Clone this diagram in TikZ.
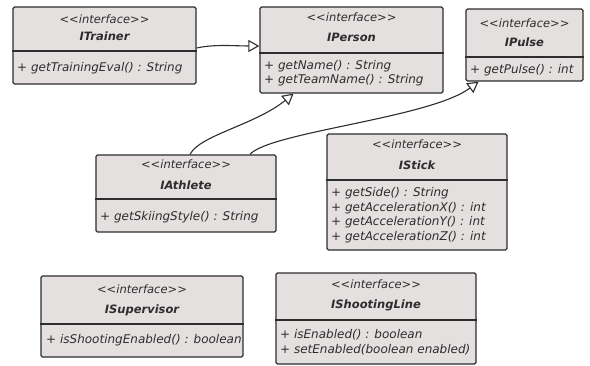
\documentclass[tikz,border=0pt]{standalone}
\usepackage{fontspec}
\setmainfont{DejaVu Sans}
\usetikzlibrary{arrows.meta}
\definecolor{boxfill}{RGB}{229,224,224}
\definecolor{ink}{RGB}{45,45,45}
\tikzset{
  box/.style={draw=ink, line width=1.3pt, fill=boxfill, rounded corners=1.5pt, inner sep=0pt},
  divider/.style={draw=ink, line width=1.2pt},
  stereo/.style={text=ink, font=\fontsize{11.5}{13}\selectfont\itshape},
  title/.style={text=ink, font=\fontsize{11.5}{13}\selectfont\bfseries\itshape},
  ops/.style={text=ink, font=\fontsize{12}{14.5}\selectfont\itshape, anchor=west, align=left, inner sep=0pt},
  realizes/.style={draw=ink, line width=1.1pt, -{Triangle[open, length=11pt, width=12pt, fill=white]}}
}
\begin{document}
\begin{tikzpicture}[x=1pt, y=-1pt]
  \useasboundingbox (0,0) rectangle (590,366);
  % ITrainer
  \node[box, minimum width=183pt, minimum height=77pt] (trainer) at (104.5,45.5) {};
  \draw[divider] (trainer.west |- 0,51) -- (trainer.east |- 0,51);
  \node[stereo] (trainerTag) at (104.5,19) {<{}<interface>{}>};
  \node[title] (trainerName) at (104.5,36) {ITrainer};
  \node[ops] (trainerOps) at (17,68) {+ getTrainingEval() : String};
  % IPerson
  \node[box, minimum width=183pt, minimum height=86pt] (person) at (351.5,50) {};
  \draw[divider] (person.west |- 0,53) -- (person.east |- 0,53);
  \node[stereo] (personTag) at (351.5,17) {<{}<interface>{}>};
  \node[title] (personName) at (351.5,37) {IPerson};
  \node[ops] (personOps) at (264,73) {+ getName() : String\\+ getTeamName() : String};
  % IPulse
  \node[box, minimum width=117pt, minimum height=72pt] (pulse) at (524.5,45) {};
  \draw[divider] (pulse.west |- 0,57) -- (pulse.east |- 0,57);
  \node[stereo] (pulseTag) at (524.5,23) {<{}<interface>{}>};
  \node[title] (pulseName) at (524.5,42) {IPulse};
  \node[ops] (pulseOps) at (470,70) {+ getPulse() : int};
  % IAthlete
  \node[box, minimum width=180pt, minimum height=77pt] (athlete) at (186,193.5) {};
  \draw[divider] (athlete.west |- 0,199) -- (athlete.east |- 0,199);
  \node[stereo] (athleteTag) at (186,164) {<{}<interface>{}>};
  \node[title] (athleteName) at (186,185) {IAthlete};
  \node[ops] (athleteOps) at (100,217) {+ getSkiingStyle() : String};
  % IStick
  \node[box, minimum width=180pt, minimum height=116pt] (stick) at (417,192) {};
  \draw[divider] (stick.west |- 0,180) -- (stick.east |- 0,180);
  \node[stereo] (stickTag) at (417,144) {<{}<interface>{}>};
  \node[title] (stickName) at (417,165) {IStick};
  \node[ops] (stickOps) at (331,215) {+ getSide() : String\\+ getAccelerationX() : int\\+ getAccelerationY() : int\\+ getAccelerationZ() : int};
  % ISupervisor
  \node[box, minimum width=202pt, minimum height=81pt] (supervisor) at (142,316.5) {};
  \draw[divider] (supervisor.west |- 0,324) -- (supervisor.east |- 0,324);
  \node[stereo] (supervisorTag) at (142,289) {<{}<interface>{}>};
  \node[title] (supervisorName) at (142,310) {ISupervisor};
  \node[ops] (supervisorOps) at (46,340) {+ isShootingEnabled() : boolean};
  % IShootingLine
  \node[box, minimum width=200pt, minimum height=91pt] (shooting) at (376,318.5) {};
  \draw[divider] (shooting.west |- 0,320) -- (shooting.east |- 0,320);
  \node[stereo] (shootingTag) at (376,284) {<{}<interface>{}>};
  \node[title] (shootingName) at (376,305) {IShootingLine};
  \node[ops] (shootingOps) at (280,342) {+ isEnabled() : boolean\\+ setEnabled(boolean enabled)};
  % Realizations
  \draw[realizes] (trainer.east |- 0,48) .. controls (215,44) and (235,46) .. (person.west |- 0,46);
  \draw[realizes] ([xshift=4pt]athlete.north) .. controls (200,135) and (255,125) .. ([xshift=-58pt]person.south);
  \draw[realizes] ([xshift=64pt]athlete.north) .. controls (270,132) and (430,118) .. ([xshift=-46pt]pulse.south);
\end{tikzpicture}
\end{document}
